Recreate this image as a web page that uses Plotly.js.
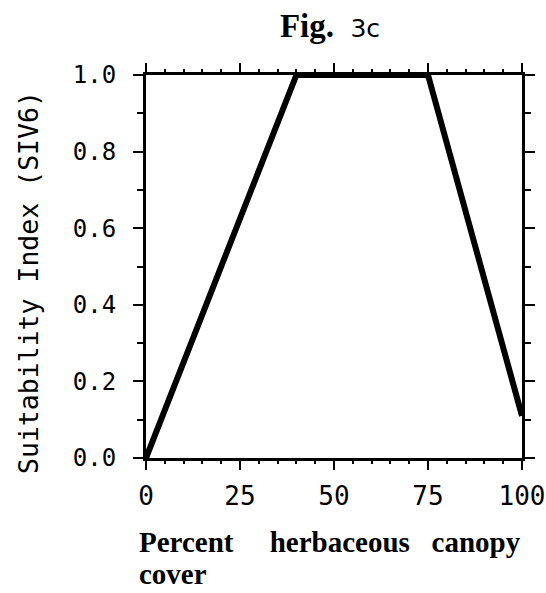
<!DOCTYPE html>
<html>
<head>
<meta charset="utf-8">
<script src="https://cdn.plot.ly/plotly-3.0.1.min.js"></script>
<style>html,body{margin:0;padding:0;background:#fff;}</style>
</head>
<body>
<div id="chart" style="width:546px;height:593px;"></div>
<script>
// Data
const coverPercent = [0, 40, 75, 100];
const suitabilityIndex = [0.0, 1.0, 1.0, 0.11];
const xTickVals = [0, 25, 50, 75, 100];
const xTickText = ['0', '25', '50', '75', '100'];
const yTickVals = [0.0, 0.2, 0.4, 0.6, 0.8, 1.0];
const yTickText = ['0.0', '0.2', '0.4', '0.6', '0.8', '1.0'];

const mono = 'DejaVu Sans Mono, monospace';
const serif = 'Liberation Serif, Times New Roman, serif';

const trace = {
  x: coverPercent,
  y: suitabilityIndex,
  type: 'scatter',
  mode: 'lines',
  line: {color: '#000', width: 6},
  hoverinfo: 'skip',
  cliponaxis: false
};

const layout = {
  width: 546,
  height: 593,
  margin: {l: 146, r: 24, t: 75, b: 135},
  paper_bgcolor: '#fff',
  plot_bgcolor: '#fff',
  showlegend: false,
  title: {
    text: '<b>Fig.</b>&nbsp;&nbsp;<span style="font-family:DejaVu Sans;font-size:25px;font-weight:normal">3c</span>',
    font: {family: serif, size: 33, color: '#000'},
    x: 330 / 546,
    xref: 'container',
    xanchor: 'center',
    y: 1 - 25 / 593,
    yref: 'container',
    yanchor: 'middle'
  },
  xaxis: {
    range: [0, 100],
    tickmode: 'array',
    tickvals: xTickVals,
    ticktext: xTickText,
    ticks: 'outside',
    ticklen: 9,
    tickwidth: 2,
    tickcolor: '#000',
    showline: true,
    linecolor: '#000',
    linewidth: 3,
    mirror: 'ticks',
    showgrid: false,
    zeroline: false,
    tickfont: {family: mono, size: 26, color: '#000'},
    ticklabelstandoff: 4,
    minor: {dtick: 5, ticks: 'outside', ticklen: 3, tickwidth: 2, tickcolor: '#000', showgrid: false},
    fixedrange: true
  },
  yaxis: {
    range: [0, 1],
    tickmode: 'array',
    tickvals: yTickVals,
    ticktext: yTickText,
    ticks: 'outside',
    ticklen: 10,
    tickwidth: 2,
    tickcolor: '#000',
    showline: true,
    linecolor: '#000',
    linewidth: 3,
    mirror: 'ticks',
    showgrid: false,
    zeroline: false,
    tickfont: {family: mono, size: 24, color: '#000'},
    ticklabelstandoff: 12,
    minor: {dtick: 0.1, ticks: 'outside', ticklen: 6, tickwidth: 2, tickcolor: '#000', showgrid: false},
    fixedrange: true
  },
  annotations: [
    {
      text: 'Suitability Index (SIV6)',
      font: {family: mono, size: 26.5, color: '#000'},
      textangle: -90,
      xref: 'paper',
      yref: 'paper',
      x: (28 - 146) / 376,
      y: (458 - 283) / 383,
      xanchor: 'center',
      yanchor: 'middle',
      showarrow: false
    },
    {
      text: '<b>Percent&nbsp;&nbsp;&nbsp;&nbsp;&nbsp;herbaceous&nbsp;&nbsp;&nbsp;canopy</b>',
      font: {family: serif, size: 29, color: '#000'},
      xref: 'paper',
      yref: 'paper',
      x: (137 - 146) / 376,
      y: 0,
      xanchor: 'left',
      yanchor: 'top',
      align: 'left',
      yshift: -66,
      showarrow: false
    },
    {
      text: '<b>cover</b>',
      font: {family: serif, size: 29, color: '#000'},
      xref: 'paper',
      yref: 'paper',
      x: (137 - 146) / 376,
      y: 0,
      xanchor: 'left',
      yanchor: 'bottom',
      align: 'left',
      yshift: -134,
      showarrow: false
    }
  ]
};

Plotly.newPlot('chart', [trace], layout, {displayModeBar: false, staticPlot: true});
</script>
</body>
</html>
